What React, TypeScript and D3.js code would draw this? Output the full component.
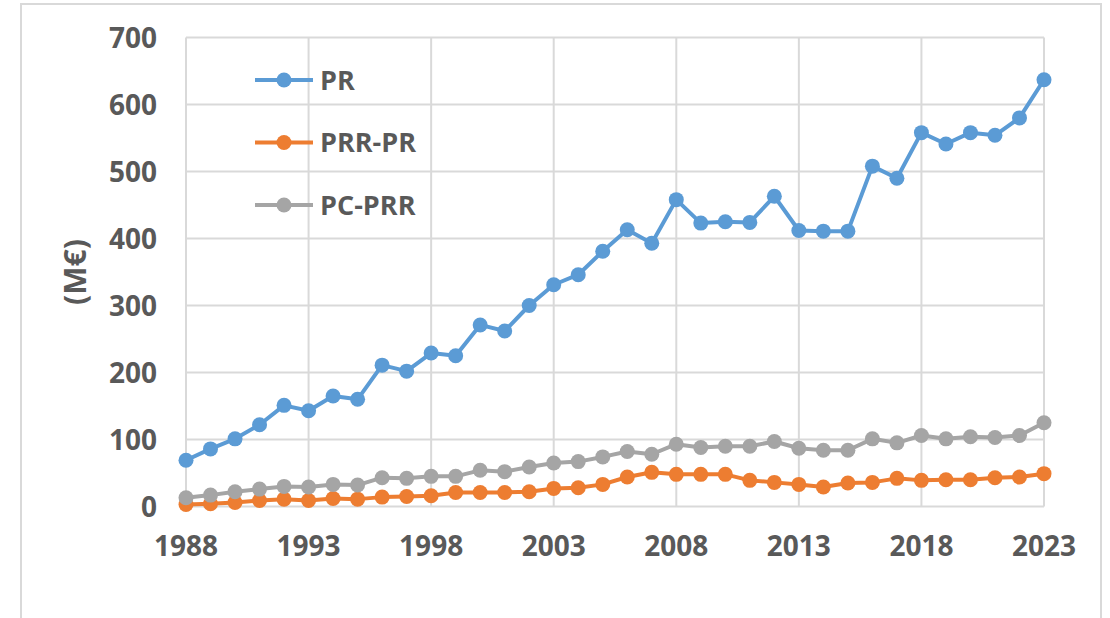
import React from 'react';
import * as d3 from 'd3';

// Years 1988..2023
const years = [
  1988, 1989, 1990, 1991, 1992, 1993, 1994, 1995, 1996, 1997, 1998, 1999,
  2000, 2001, 2002, 2003, 2004, 2005, 2006, 2007, 2008, 2009, 2010, 2011,
  2012, 2013, 2014, 2015, 2016, 2017, 2018, 2019, 2020, 2021, 2022, 2023,
];

// values (M€)
const pr = [
  69, 86, 101, 122, 151, 143, 165, 160, 211, 202, 229, 225,
  271, 262, 300, 331, 346, 381, 413, 393, 458, 423, 425, 424,
  463, 412, 411, 411, 508, 490, 558, 541, 558, 554, 580, 637,
];
const prrPr = [
  3, 4, 6, 9, 11, 9, 12, 11, 14, 15, 16, 21,
  21, 21, 22, 27, 28, 33, 44, 51, 48, 48, 48, 39,
  36, 33, 29, 35, 36, 42, 39, 40, 40, 43, 44, 49,
];
const pcPrr = [
  13, 17, 22, 26, 30, 29, 33, 32, 43, 42, 45, 45,
  54, 52, 59, 65, 67, 74, 82, 78, 93, 88, 90, 90,
  97, 87, 84, 84, 101, 95, 106, 101, 104, 103, 106, 125,
];

const yTicks = [0, 100, 200, 300, 400, 500, 600, 700];
const xTicks = [1988, 1993, 1998, 2003, 2008, 2013, 2018, 2023];

const series = [
  { name: 'PR', values: pr, color: '#5b9bd5' },
  { name: 'PRR-PR', values: prrPr, color: '#ed7d31' },
  { name: 'PC-PRR', values: pcPrr, color: '#a5a5a5' },
];

const W = 1110;
const H = 618;
const plot = { left: 186, right: 1044, top: 37.5, bottom: 506.5 };
const textColor = '#595959';
const gridColor = '#d9d9d9';
const font = '"Open Sans", "Liberation Sans", sans-serif';

export default function App() {
  const x = d3.scaleLinear().domain([1988, 2023]).range([plot.left, plot.right]);
  const y = d3.scaleLinear().domain([0, 700]).range([plot.bottom, plot.top]);

  const line = d3
    .line<number>()
    .x((_, i) => x(years[i]))
    .y((d) => y(d));

  return (
    <svg
      width={W}
      height={H}
      style={{ position: 'absolute', left: 0, top: 0, background: '#fff' }}
      fontFamily={font}
    >
      {/* chart frame */}
      <rect x={21} y={4} width={1080} height={640} fill="#fff" stroke={gridColor} strokeWidth={2} />

      {/* gridlines */}
      {yTicks.map((t) => (
        <line key={'gy' + t} x1={plot.left} x2={plot.right} y1={y(t)} y2={y(t)} stroke={gridColor} strokeWidth={2} />
      ))}
      {xTicks.map((t) => (
        <line key={'gx' + t} x1={x(t)} x2={x(t)} y1={plot.top} y2={plot.bottom} stroke={gridColor} strokeWidth={2} />
      ))}

      {/* y tick labels */}
      {yTicks.map((t) => (
        <text key={'ty' + t} x={157} y={y(t)} dy="0.36em" textAnchor="end" fontSize={28} fontWeight="bold" fill={textColor}>
          {t}
        </text>
      ))}
      {/* x tick labels */}
      {xTicks.map((t) => (
        <text key={'tx' + t} x={x(t)} y={546} dy="0.36em" textAnchor="middle" fontSize={28} fontWeight="bold" fill={textColor}>
          {t}
        </text>
      ))}

      <text
        transform={`translate(75,272) rotate(-90)`}
        textAnchor="middle"
        dy="0.36em"
        fontSize={30}
        fontWeight="bold"
        fill={textColor}
      >
        (M€)
      </text>

      {/* series */}
      {series.map((s) => (
        <g key={s.name}>
          <path d={line(s.values) || ''} fill="none" stroke={s.color} strokeWidth={4} strokeLinejoin="round" />
          {s.values.map((v, i) => (
            <circle key={i} cx={x(years[i])} cy={y(v)} r={7.5} fill={s.color} />
          ))}
        </g>
      ))}

      {/* legend */}
      {series.map((s, i) => {
        const ly = 80 + i * 62.5;
        return (
          <g key={'lg' + s.name}>
            <line x1={255} x2={313} y1={ly} y2={ly} stroke={s.color} strokeWidth={4} />
            <circle cx={284} cy={ly} r={7.5} fill={s.color} />
            <text x={320} y={ly} dy="0.36em" fontSize={27} fontWeight="bold" fill={textColor}>
              {s.name}
            </text>
          </g>
        );
      })}
    </svg>
  );
}
